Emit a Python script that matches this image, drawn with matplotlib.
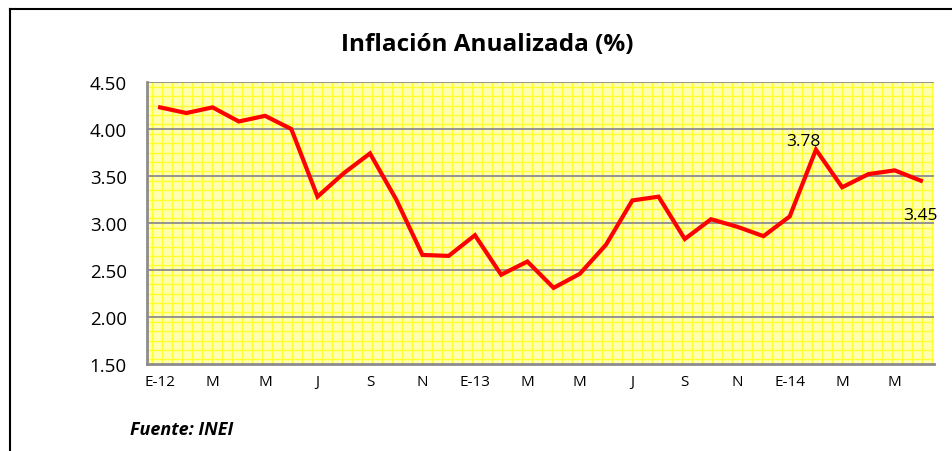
import matplotlib
matplotlib.use("Agg")
import matplotlib.pyplot as plt
from matplotlib.lines import Line2D
import numpy as np

plt.rcParams['font.family'] = ['Open Sans', 'DejaVu Sans']

months = list(range(30))
inflation = [4.23, 4.17, 4.23, 4.08, 4.14, 4.00, 3.28, 3.53, 3.74, 3.25, 2.66, 2.65,
             2.87, 2.45, 2.59, 2.31, 2.46, 2.77, 3.24, 3.28, 2.83, 3.04, 2.96, 2.86,
             3.07, 3.78, 3.38, 3.52, 3.56, 3.45]
tick_labels = ["E-12", "M", "M", "J", "S", "N", "E-13", "M", "M", "J", "S", "N", "E-14", "M", "M"]
y_ticks = [1.5, 2.0, 2.5, 3.0, 3.5, 4.0, 4.5]
title = "Inflación Anualizada (%)"
source = "Fuente: INEI"

fig = plt.figure(figsize=(9.52, 4.52), dpi=100)
ax = fig.add_axes([147/952, 1-365/452, (934-147)/952, (365-83)/452])
ax.set_facecolor('#FFFFB0')

# fine pattern grid (Excel small-grid fill)
w_px, h_px = 934-147, 365-83
for xp in np.arange(5, w_px, 10):
    ax.add_line(Line2D([xp/w_px, xp/w_px], [0, 1], transform=ax.transAxes,
                       color='#FFFF30', lw=1.0, zorder=0.5))
for yp in np.arange(4.7, h_px, 9.4):
    ax.add_line(Line2D([0, 1], [yp/h_px, yp/h_px], transform=ax.transAxes,
                       color='#FFFF30', lw=1.0, zorder=0.5))

ax.set_ylim(1.5, 4.5)
ax.set_xlim(-0.5, 29.5)
ax.set_yticks(y_ticks)
ax.set_yticklabels([f"{v:.2f}" for v in y_ticks], fontsize=13.5)
ax.set_xticks(months[::2])
ax.set_xticklabels(tick_labels, fontsize=11)
ax.tick_params(length=0, pad=7)
ax.tick_params(axis='y', pad=14.5)
for yv in y_ticks[1:-1]:
    ax.axhline(yv, color='#8C8C8C', lw=1.3, zorder=1)
for s in ['top', 'right']:
    ax.spines[s].set_visible(False)
for s in ['left', 'bottom']:
    ax.spines[s].set_color('#8C8C8C')
    ax.spines[s].set_linewidth(2)
ax.add_line(Line2D([0, 1], [1, 1], transform=ax.transAxes, color='#8C8C8C', lw=1.3, zorder=1))

ax.plot(months, inflation, color='#FF0000', lw=3, zorder=3, solid_joinstyle='miter')

ax.annotate(f"{inflation[25]:.2f}", (months[25], inflation[25]), xytext=(-9, 6),
            textcoords='offset points', ha='center', va='center', fontsize=12.5)
ax.annotate(f"{inflation[29]:.2f}", (months[29], inflation[29]), xytext=(0, -25),
            textcoords='offset points', ha='center', va='center', fontsize=12.5, clip_on=False)

fig.text(487/952, 1-45/452, title, ha='center', va='center', fontsize=17.5, fontweight='bold')
fig.text(130/952, 1-430/452, source, ha='left', va='center', fontsize=13, fontweight='bold', style='italic')

# outer frame
fig.add_artist(Line2D([10/952, 10/952], [0, 1-10/452], transform=fig.transFigure, color='black', lw=1.5))
fig.add_artist(Line2D([10/952, 1], [1-10/452, 1-10/452], transform=fig.transFigure, color='black', lw=1.5))

fig.savefig("out.png", dpi=100)
